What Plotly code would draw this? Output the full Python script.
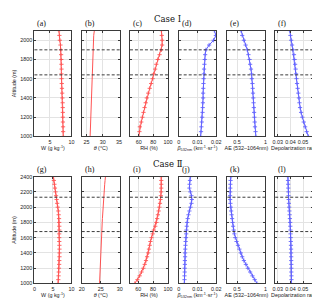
import plotly.graph_objects as go

# ---------------- data ----------------
ALT_I = [1000, 1050, 1100, 1150, 1200, 1250, 1300, 1350, 1400, 1450, 1500, 1550,
         1600, 1650, 1700, 1750, 1800, 1850, 1900, 1950, 2000, 2050, 2100]
ALT_II = [1000, 1050, 1100, 1150, 1200, 1250, 1300, 1350, 1400, 1450, 1500, 1550,
          1600, 1650, 1700, 1750, 1800, 1850, 1900, 1950, 2000, 2050, 2100, 2150,
          2200, 2250, 2300, 2350, 2400]

W_I = [8.1, 8.07, 8.05, 8.02, 8.0, 8.0, 7.98, 7.95, 7.9, 7.85, 7.8, 7.75, 7.72,
       7.7, 7.7, 7.68, 7.65, 7.6, 7.55, 7.45, 7.3, 7.2, 7.1]
TH_I = [26.1, 26.15, 26.19, 26.23, 26.27, 26.31, 26.35, 26.38, 26.42, 26.46, 26.5,
        26.53, 26.57, 26.6, 26.65, 26.7, 26.75, 26.8, 26.85, 26.9, 27.0, 27.2, 27.4]
RH_I = [60, 61, 61.5, 63.5, 65, 66.5, 68, 69.5, 71, 73, 75, 77, 79, 80.5, 82.5, 84,
        86, 88.5, 91, 92, 92, 91.5, 91]
BETA_I = [0.0117, 0.0119, 0.0121, 0.0123, 0.0125, 0.0127, 0.0128, 0.0129, 0.0130,
          0.0130, 0.0131, 0.0132, 0.0133, 0.0134, 0.0135, 0.0137, 0.0139, 0.0141,
          0.0145, 0.0162, 0.0186, 0.0198, 0.0190]
AE_I = [0.83, 0.825, 0.815, 0.81, 0.805, 0.80, 0.795, 0.79, 0.785, 0.78, 0.775, 0.77,
        0.76, 0.755, 0.745, 0.73, 0.72, 0.70, 0.68, 0.65, 0.62, 0.59, 0.57]
DP_I = [0.0541, 0.0528, 0.0516, 0.0505, 0.0494, 0.0484, 0.0476, 0.0471, 0.0467,
        0.0462, 0.0457, 0.0452, 0.0448, 0.0444, 0.0441, 0.0437, 0.0433, 0.0428,
        0.0421, 0.0413, 0.0406, 0.0400, 0.0395]

W_II = [6.4, 6.45, 6.52, 6.58, 6.63, 6.68, 6.72, 6.77, 6.78, 6.77, 6.75, 6.72, 6.7,
        6.7, 6.72, 6.72, 6.7, 6.65, 6.55, 6.45, 6.3, 6.15, 6.0, 5.85, 5.7, 5.55, 5.4,
        5.25, 5.1]
TH_II = [24.7, 24.73, 24.77, 24.8, 24.84, 24.87, 24.9, 24.93, 24.97, 25.0, 25.05,
         25.1, 25.15, 25.2, 25.27, 25.33, 25.4, 25.45, 25.5, 25.55, 25.62, 25.68,
         25.75, 25.82, 25.9, 25.97, 26.05, 26.15, 26.25]
RH_II = [55.5, 59, 62, 64.5, 67, 68.8, 70.5, 72, 73.5, 74.5, 75.5, 76.5, 78, 79.5, 81,
         83, 84.5, 85.5, 86.5, 87.5, 88.5, 89.3, 90, 90.5, 90.8, 91, 91, 91, 91]
BETA_II = [0.0030, 0.0031, 0.0031, 0.0032, 0.0032, 0.0033, 0.0033, 0.0034, 0.0034,
           0.0035, 0.0036, 0.0037, 0.0038, 0.0040, 0.0041, 0.0043, 0.0045, 0.0048,
           0.0052, 0.0057, 0.0063, 0.0068, 0.0070, 0.0068, 0.0062, 0.0057, 0.0058,
           0.0060, 0.0062]
AE_II = [0.85, 0.81, 0.77, 0.73, 0.69, 0.655, 0.62, 0.59, 0.565, 0.54, 0.515, 0.49,
         0.468, 0.452, 0.44, 0.43, 0.42, 0.412, 0.403, 0.395, 0.388, 0.382, 0.378,
         0.377, 0.378, 0.38, 0.382, 0.385, 0.39]
DP_II = [0.0408, 0.0408, 0.0408, 0.0407, 0.0407, 0.0407, 0.0406, 0.0406, 0.0405,
         0.0405, 0.0404, 0.0403, 0.0402, 0.0401, 0.0400, 0.0399, 0.0398, 0.0396,
         0.0394, 0.0392, 0.0390, 0.0388, 0.0386, 0.0385, 0.0384, 0.0383, 0.0382,
         0.0381, 0.0380]

LAYERS_I = [1640, 1900]
LAYERS_II = [1680, 2130]

PANEL_LABELS = ["(a)", "(b)", "(c)", "(d)", "(e)", "(f)",
                "(g)", "(h)", "(i)", "(j)", "(k)", "(l)"]
X_TITLES = ["W (g kg<sup>-1</sup>)", "<i>θ</i> (°C)", "RH (%)",
            "<i>β</i><sub>532nm</sub> (km<sup>-1</sup>·sr<sup>-1</sup>)",
            "AE (532–1064nm)", "Depolarization ratio"]

# ---------------- layout helpers ----------------
W, H = 320, 301
COLS_PX = [(24, 62), (72.5, 111.5), (122, 161), (172, 210.5), (222, 261), (271, 310)]
ROWS_PX = [(20, 128), (169, 278)]
RED = "rgb(255,55,55)"
BLUE = "rgb(70,70,255)"
FONT = "Liberation Sans, Arial, sans-serif"
SERIF = "Liberation Serif, Times New Roman, serif"
TFS = 5.4

rows = [
    dict(alt=ALT_I, yr=[1000, 2100], layers=LAYERS_I,
         series=[W_I, TH_I, RH_I, BETA_I, AE_I, DP_I],
         xr=[[1.4, 10], [23.5, 35.2], [48, 100], [0, 0.02], [0.33, 1], [0.028, 0.058]],
         tv=[[5, 10], [25, 30, 35], [60, 80, 100], [0, 0.01, 0.02], [0.5, 1], [0.03, 0.04, 0.05]],
         tt=[["5", "10"], ["25", "30", "35"], ["60", "80", "100"], ["0", "0.01", "0.02"],
             ["0.5", "1"], ["0.03", "0.04", "0.05"]]),
    dict(alt=ALT_II, yr=[1000, 2400], layers=LAYERS_II,
         series=[W_II, TH_II, RH_II, BETA_II, AE_II, DP_II],
         xr=[[0, 10], [20, 30], [49, 100], [0, 0.02], [0.33, 1], [0.028, 0.058]],
         tv=[[0, 5, 10], [20, 25, 30], [60, 80, 100], [0, 0.01, 0.02], [0.5, 1], [0.03, 0.04, 0.05]],
         tt=[["0", "5", "10"], ["20", "25", "30"], ["60", "80", "100"], ["0", "0.01", "0.02"],
             ["0.5", "1"], ["0.03", "0.04", "0.05"]]),
]
colors = [RED, RED, RED, BLUE, BLUE, BLUE]
use_markers = [True, False, True, True, True, True]

fig = go.Figure()
layout = {}
annotations = []
shapes = []

n = 0
for r, row in enumerate(rows):
    y0px, y1px = ROWS_PX[r]
    ydom = [1 - y1px / H, 1 - y0px / H]
    for c in range(6):
        n += 1
        x0px, x1px = COLS_PX[c]
        xdom = [x0px / W, x1px / W]
        xa = "x" if n == 1 else f"x{n}"
        ya = "y" if n == 1 else f"y{n}"
        fig.add_trace(go.Scatter(
            x=row["series"][c], y=row["alt"], xaxis=xa, yaxis=ya,
            mode="lines+markers" if use_markers[c] else "lines",
            line=dict(color=colors[c], width=1),
            marker=dict(symbol="cross-thin", size=3,
                        line=dict(width=0.9, color=colors[c])),
            opacity=0.85, showlegend=False, hoverinfo="skip"))
        axcommon = dict(showline=True, mirror="allticks", linecolor="#3a3a3a",
                        linewidth=1, ticks="inside", ticklen=2, tickwidth=0.8,
                        tickcolor="#3a3a3a", showgrid=True, gridcolor="#e3e3e3",
                        gridwidth=0.8, zeroline=False, tickangle=0,
                        tickfont=dict(family=FONT, size=TFS, color="#222"))
        layout["xaxis" if n == 1 else f"xaxis{n}"] = dict(
            axcommon, domain=xdom, anchor=ya, range=row["xr"][c],
            tickmode="array", tickvals=row["tv"][c], ticktext=row["tt"][c],
            title=dict(text=X_TITLES[c], font=dict(family=FONT, size=TFS, color="#222"),
                       standoff=1))
        ydict = dict(axcommon, domain=ydom, anchor=xa, range=row["yr"],
                     tick0=1000, dtick=200, showticklabels=(c == 0))
        if c == 0:
            ydict["title"] = dict(text="Altitude (m)",
                                  font=dict(family=FONT, size=TFS, color="#222"),
                                  standoff=3)
        layout["yaxis" if n == 1 else f"yaxis{n}"] = ydict
        for lv in row["layers"]:
            shapes.append(dict(type="line", xref=f"{xa} domain", yref=ya,
                               x0=0, x1=1, y0=lv, y1=lv,
                               line=dict(color="#3c3c3c", width=1, dash="3px,2px")))
        annotations.append(dict(text=PANEL_LABELS[n - 1], xref="paper", yref="paper",
                                x=(x0px + 1) / W, y=1 - (y0px - 1) / H,
                                xanchor="left", yanchor="bottom", showarrow=False,
                                font=dict(family=SERIF, size=8, color="#111")))

annotations.append(dict(text="Case Ⅰ", xref="paper", yref="paper", x=161 / W,
                        y=1 - 1 / H, xanchor="center", yanchor="top", showarrow=False,
                        font=dict(family="DejaVu Serif, serif", size=8.5, color="#111")))
annotations.append(dict(text="Case Ⅱ", xref="paper", yref="paper", x=161 / W,
                        y=1 - 149 / H, xanchor="center", yanchor="top", showarrow=False,
                        font=dict(family="DejaVu Serif, serif", size=8.5, color="#111")))

fig.update_layout(width=W, height=H, margin=dict(l=0, r=0, t=0, b=0),
                  paper_bgcolor="white", plot_bgcolor="white",
                  annotations=annotations, shapes=shapes, **layout)
fig.write_html("out.html")
